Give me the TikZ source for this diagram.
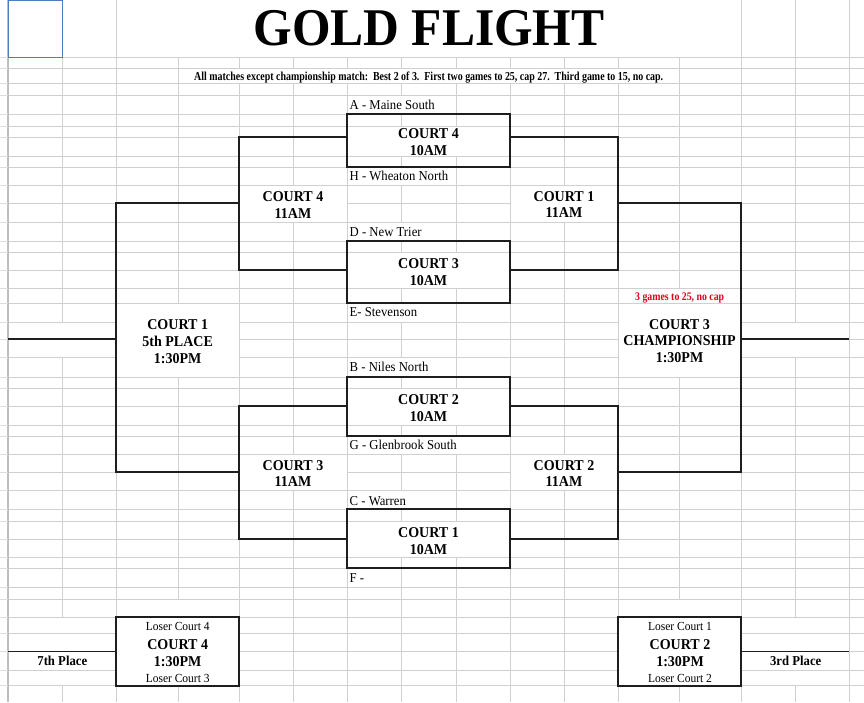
\documentclass[tikz,border=0pt]{standalone}
\usepackage{fontspec}
\setmainfont{Liberation Serif}[FakeStretch=0.935]
\usepackage{graphicx}
\usetikzlibrary{calc}
\definecolor{gridc}{HTML}{D0D0D0}
\definecolor{hdrc}{HTML}{BDBDBD}
\definecolor{linec}{HTML}{1E1E1E}
\definecolor{selblue}{HTML}{4A7EBB}
\definecolor{redtxt}{HTML}{E00018}
\newcommand\mk[4]{\fill[white] (#1+0.5,#2+0.5) rectangle (#3-0.5,#4-0.5);}
\begin{document}
\begin{tikzpicture}[x=1pt,y=-1pt,
  gridline/.style={draw=gridc, line width=0.9pt},
  bline/.style={draw=linec, line width=1.3pt},
  matchbox/.style={draw=linec, line width=1.3pt, minimum width=163pt, inner sep=0pt},
  loserbox/.style={draw=linec, line width=1.3pt, minimum width=123pt, minimum height=69pt, inner sep=0pt},
  ctext/.style={font=\fontsize{15}{18}\selectfont\bfseries, anchor=base, inner sep=0pt},
  team/.style={font=\fontsize{13.6}{16}\selectfont, anchor=base west, inner sep=0pt},
  losertxt/.style={font=\fontsize{12.3}{14}\selectfont, anchor=base, inner sep=0pt},
  placetxt/.style={font=\fontsize{13.6}{16}\selectfont\bfseries, anchor=base, inner sep=0pt},
]
\useasboundingbox (0,0) rectangle (864,702);
\fill[white] (0,0) rectangle (864,702);

% ---- spreadsheet grid: columns
\foreach \x in {62,116,178,239,293,347,401,456,510,564,618,679,741,795,849}
  \draw[gridline] (\x,0) -- (\x,702);
\draw[draw=hdrc, line width=1.6pt] (8,0) -- (8,702);
% title cell
\fill[white] (116.5,0) rectangle (740.5,56.5);
% merged cells hiding vertical lines only
\fill[white] (60,617.5) rectangle (64,684.5);
\fill[white] (793,617.5) rectangle (797,684.5);

% ---- rows
\foreach \y in {57,68,83,95,114,126,137,156,167,185,203,222,241,252,270,288,303,322,339,357,377,388,406,425,436,454,472,490,509,521,539,557,568,587,599,617,633,651,670,685}{
  \draw[gridline] (9,\y) -- (864,\y);
  \draw[draw=gridc!70, line width=0.8pt] (0,\y) -- (7.5,\y);
}

% ---- merged / overflow cells
\mk{178}{68}{679}{83}
\mk{347}{95}{456}{114}
\mk{347}{126}{510}{156}
\mk{347}{167}{456}{185}
\mk{239}{185}{347}{222}
\mk{510}{185}{618}{222}
\mk{347}{222}{456}{241}
\mk{347}{252}{510}{288}
\mk{618}{288}{741}{303}
\mk{347}{303}{456}{322}
\mk{116}{303}{239}{377}
\mk{618}{303}{741}{377}
\mk{8}{322}{116}{357}
\mk{741}{322}{849}{357}
\mk{347}{357}{456}{377}
\mk{347}{388}{510}{425}
\mk{347}{436}{510}{454}
\mk{239}{454}{347}{490}
\mk{510}{454}{618}{490}
\mk{347}{490}{456}{509}
\mk{347}{521}{510}{557}
\mk{116}{599}{239}{617}
\mk{618}{599}{741}{617}
\mk{116}{617}{239}{686}
\mk{618}{617}{741}{686}

% selected cell
\draw[draw=selblue, line width=1pt] (8,0.5) rectangle (62,57);

% ---- titles
\node[font=\fontsize{53}{60}\selectfont\bfseries, anchor=base, inner sep=0pt] (title) at (429,45) {GOLD FLIGHT};
\node[anchor=base, inner sep=0pt] (subtitle) at (428.7,80)
  {\resizebox{469pt}{8.6pt}{\bfseries All matches except championship match:\ \ Best 2 of 3.\ \ First two games to 25, cap 27.\ \ Third game to 15, no cap.}};

% ---- first-round match boxes
\node[matchbox, minimum height=53pt] (m1) at (428.5,140.5) {};
\node[matchbox, minimum height=62pt] (m2) at (428.5,272) {};
\node[matchbox, minimum height=59pt] (m3) at (428.5,406.5) {};
\node[matchbox, minimum height=59pt] (m4) at (428.5,538.5) {};

\node[ctext] (m1a) at (428.5,138) {COURT 4};
\node[ctext] (m1b) at (428.5,155) {10AM};
\node[ctext] (m2a) at (428.5,268.3) {COURT 3};
\node[ctext] (m2b) at (428.5,285) {10AM};
\node[ctext] (m3a) at (428.5,404.3) {COURT 2};
\node[ctext] (m3b) at (428.5,421) {10AM};
\node[ctext] (m4a) at (428.5,537.3) {COURT 1};
\node[ctext] (m4b) at (428.5,554) {10AM};

% ---- teams
\node[team] (tA) at (349.5,109) {A - Maine South};
\node[team] (tH) at (349.5,180.7) {H - Wheaton North};
\node[team] (tD) at (349.5,236) {D - New Trier};
\node[team] (tE) at (349.5,316.7) {E- Stevenson};
\node[team] (tB) at (349.5,371.7) {B - Niles North};
\node[team] (tG) at (349.5,449.3) {G - Glenbrook South};
\node[team] (tC) at (349.5,505) {C - Warren};
\node[team] (tF) at (349.5,582.3) {F -};

% ---- connector points
\coordinate (m1l) at (347,137);  \coordinate (m1r) at (510,137);
\coordinate (m2l) at (347,270);  \coordinate (m2r) at (510,270);
\coordinate (m3l) at (347,406);  \coordinate (m3r) at (510,406);
\coordinate (m4l) at (347,539);  \coordinate (m4r) at (510,539);
\coordinate (q1) at (239,203);   \coordinate (q2) at (618,203);
\coordinate (q3) at (239,472);   \coordinate (q4) at (618,472);
\coordinate (fifth) at (116,339); \coordinate (champ) at (741,339);
\coordinate (out5) at (8,339);   \coordinate (outc) at (849,339);

\draw[bline] (m1l) -| (q1) |- (m2l);
\draw[bline] (m1r) -| (q2) |- (m2r);
\draw[bline] (m3l) -| (q3) |- (m4l);
\draw[bline] (m3r) -| (q4) |- (m4r);
\draw[bline] (q1) -| (fifth) |- (q3);
\draw[bline] (q2) -| (champ) |- (q4);
\draw[bline] (fifth) -- (out5);
\draw[bline] (champ) -- (outc);

% ---- second-round labels
\node[ctext] (s1a) at (293,201.7) {COURT 4};
\node[ctext] (s1b) at (293,218.3) {11AM};
\node[ctext] (s2a) at (564,201) {COURT 1};
\node[ctext] (s2b) at (564,217.7) {11AM};
\node[ctext] (s3a) at (293,470) {COURT 3};
\node[ctext] (s3b) at (293,486.7) {11AM};
\node[ctext] (s4a) at (564,470) {COURT 2};
\node[ctext] (s4b) at (564,486.7) {11AM};

% ---- finals labels
\node[ctext] (f5a) at (177.7,329.3) {COURT 1};
\node[ctext] (f5b) at (177.7,346.7) {5th PLACE};
\node[ctext] (f5c) at (177.7,363.3) {1:30PM};
\node[anchor=base, inner sep=0pt, text=redtxt] (note) at (679.7,300)
  {\resizebox{89pt}{7.7pt}{\bfseries 3 games to 25, no cap}};
\node[ctext] (fca) at (679.5,329.3) {COURT 3};
\node[ctext] (fcb) at (679.5,345.7) {CHAMPIONSHIP};
\node[ctext] (fcc) at (679.5,362.7) {1:30PM};

% ---- consolation boxes
\node[loserbox] (l1) at (177.5,651.5) {};
\node[loserbox] (l2) at (679.5,651.5) {};
\coordinate (out7) at (8,651.5);
\coordinate (out3) at (849,651.5);
\draw[bline] (l1.west) -- (out7);
\draw[bline] (l2.east) -- (out3);

\node[losertxt] (l1a) at (177.7,630) {Loser Court 4};
\node[ctext] (l1b) at (177.7,649.3) {COURT 4};
\node[ctext] (l1c) at (177.7,666.7) {1:30PM};
\node[losertxt] (l1d) at (177.7,682.3) {Loser Court 3};
\node[losertxt] (l2a) at (680,630) {Loser Court 1};
\node[ctext] (l2b) at (680,649.3) {COURT 2};
\node[ctext] (l2c) at (680,666.7) {1:30PM};
\node[losertxt] (l2d) at (680,682.3) {Loser Court 2};
\node[placetxt] (p7) at (62.3,665.5) {7th Place};
\node[placetxt] (p3) at (795.7,665) {3rd Place};
\end{tikzpicture}
\end{document}
